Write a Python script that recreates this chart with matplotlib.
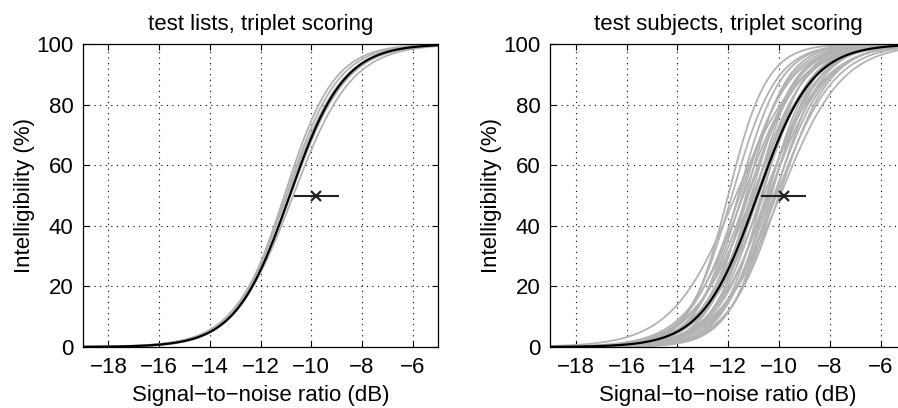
import numpy as np
import matplotlib.pyplot as plt

plt.rcParams['font.family'] = ['Liberation Sans', 'DejaVu Sans']

# --- psychometric function parameters ---
# (SRT at 50 % in dB, logistic slope in 1/dB)
lists_srt = [-11.06, -10.985, -10.95, -10.825, -10.825, -10.71]
lists_slope = [1.02, 0.98, 0.92, 0.94, 0.91, 0.87]

subj_srt = [-12.0, -11.85, -11.7, -11.6, -11.55, -11.45, -11.4, -11.3, -11.25, -11.2,
            -11.1, -11.05, -11.0, -10.95, -10.9, -10.85, -10.8, -10.7, -10.65, -10.6,
            -10.5, -10.45, -10.4, -10.35, -10.3, -10.2, -10.15, -10.1, -10.0, -9.95]
subj_slope = [1.3, 1.15, 0.79, 1.2, 1.0, 1.1, 0.9, 1.25, 0.95, 1.05,
              1.15, 0.85, 1.0, 1.2, 0.9, 1.1, 0.95, 1.05, 1.25, 0.85,
              1.0, 1.15, 0.9, 1.05, 1.2, 0.95, 1.1, 0.88, 1.0, 0.83]

mean_srt = [-10.85, -10.85]
mean_slope = [0.94, 0.93]

# error bar at 50 %: centre and half width
err_x = [-9.8, -9.82]
err_w = [0.89, 0.9]

titles = ['test lists, triplet scoring', 'test subjects, triplet scoring']
xticks = [-18, -16, -14, -12, -10, -8, -6]
yticks = [0, 20, 40, 60, 80, 100]

snr = np.linspace(-19, -5, 500)


def psy(x, srt, s):
    return 100.0 / (1.0 + np.exp(-s * (x - srt)))


fig = plt.figure(figsize=(8.98, 4.08), dpi=100)
ax1 = fig.add_axes([83 / 898, 61 / 408, 355 / 898, 303 / 408])
ax2 = fig.add_axes([550.3 / 898, 61 / 408, 355.7 / 898, 303 / 408])

gray_sets = [(lists_srt, lists_slope), (subj_srt, subj_slope)]

for i, ax in enumerate([ax1, ax2]):
    srts, slopes = gray_sets[i]
    for m, s in zip(srts, slopes):
        ax.plot(snr, psy(snr, m, s), color='#b2b2b2', lw=1.3, zorder=2)
    ax.plot(snr, psy(snr, mean_srt[i], mean_slope[i]), color='black', lw=1.6, zorder=3)
    ax.errorbar(err_x[i], 50, xerr=err_w[i], fmt='x', color='#222222', ms=6.5, mew=1.6,
                elinewidth=1.5, capsize=0, zorder=4)

    ax.set_xlim(-19, -5)
    ax.set_ylim(0, 100)
    ax.set_xticks(xticks)
    ax.set_yticks(yticks)
    ax.grid(True, color='black', linestyle=(0, (1, 4)), lw=0.8)
    ax.tick_params(direction='in', top=True, right=True, length=4, labelsize=16, pad=7)
    for sp in ax.spines.values():
        sp.set_linewidth(0.9)
    ax.set_title(titles[i], fontsize=16, pad=10)
    ax.set_xlabel('Signal\u2212to\u2212noise ratio (dB)', fontsize=16, labelpad=5)
    ax.set_ylabel('Intelligibility (%)', fontsize=16, labelpad=1)

fig.savefig('out.png', dpi=100)
